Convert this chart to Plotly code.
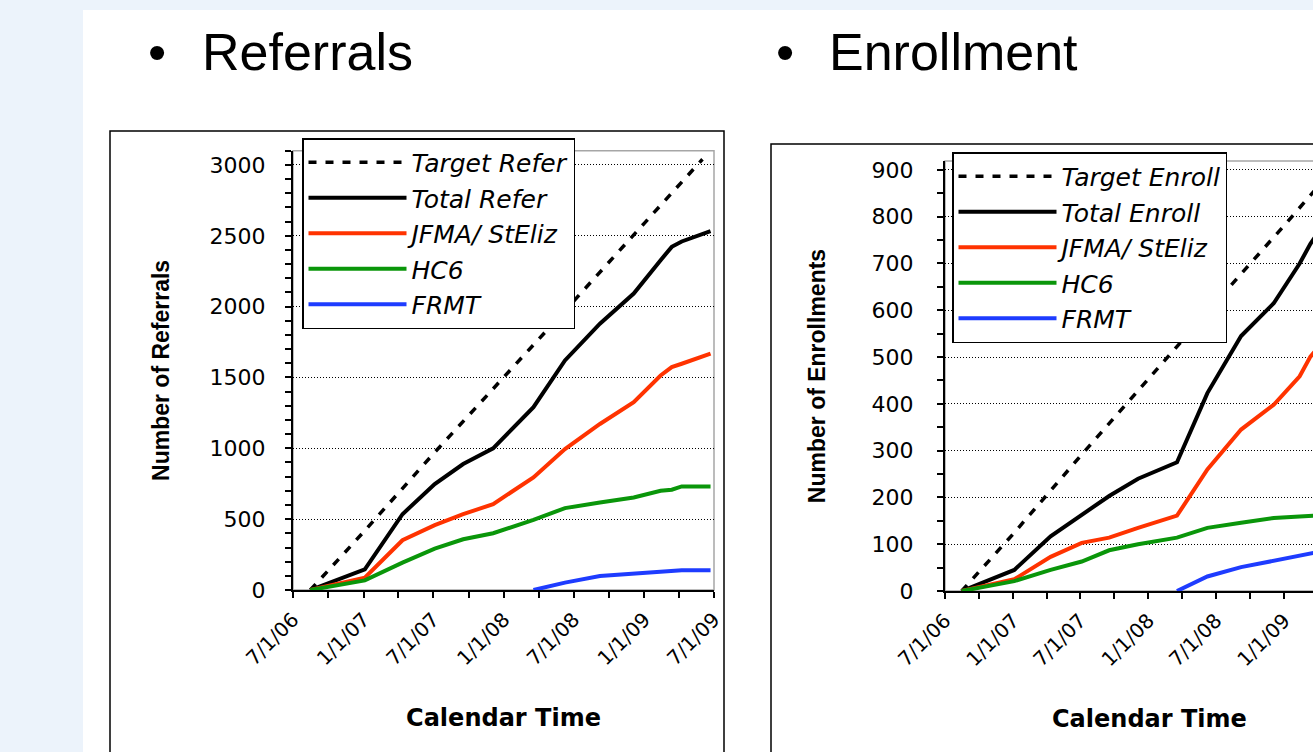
import plotly.graph_objects as go

# ---------------- data ----------------
dates = ["2006-08-15", "2007-01-04", "2007-04-12", "2007-07-05", "2007-09-17",
         "2007-12-04", "2008-03-18", "2008-06-08", "2008-09-07", "2008-12-04",
         "2009-02-12", "2009-03-13", "2009-04-08", "2009-06-22"]
target_dates = ["2006-08-15", "2007-01-01", "2007-07-01", "2008-01-01",
                "2008-07-01", "2009-01-01", "2009-06-01"]

# Referrals
target_refer = [0, 410, 960, 1500, 2040, 2590, 3040]
total_refer = [0, 146, 535, 748, 889, 1000, 1290, 1620, 1880, 2092, 2328, 2422, 2460, 2533]
jfma_refer = [0, 87, 351, 458, 535, 606, 795, 995, 1172, 1325, 1514, 1573, 1597, 1668]
hc6_refer = [0, 68, 193, 292, 358, 401, 495, 578, 618, 653, 700, 708, 731, 731]
frmt_refer = [None, None, None, None, None, None, 0, 52, 99, 118, 130, 134, 139, 139]

# Enrollment
target_enroll = [0, 122, 288, 452, 617, 781, 918]
total_enroll = [0, 45, 117, 164, 203, 240, 275, 423, 545, 615, 700, 742, 772, 835]
jfma_enroll = [0, 25, 73, 103, 114, 135, 161, 260, 345, 398, 459, 501, 525, 580]
hc6_enroll = [0, 21, 45, 63, 87, 100, 114, 135, 146, 156, 159, 161, 163, 165]
frmt_enroll = [None, None, None, None, None, None, 0, 31, 51, 64, 76, 80, 84, 90]

names_refer = ["Target Refer", "Total Refer", "JFMA/ StEliz", "HC6", "FRMT"]
names_enroll = ["Target Enroll", "Total Enroll", "JFMA/ StEliz", "HC6", "FRMT"]
colors = ["#000000", "#000000", "#FF3300", "#0A960A", "#1E3CFF"]

W, H = 1313, 752
BG = "#ECF3FB"

def px(x):
    return x / W

def py(y):
    return (H - y) / H

fig = go.Figure()

def add_series(xa, ya, leg, names, tvals, series):
    fig.add_trace(go.Scatter(x=target_dates, y=tvals, mode="lines", name=names[0],
                             line=dict(color=colors[0], width=3.5, dash="8px,9px"),
                             xaxis=xa, yaxis=ya, legend=leg))
    for nm, vals, col in zip(names[1:], series, colors[1:]):
        fig.add_trace(go.Scatter(x=dates, y=vals, mode="lines", name=nm,
                                 line=dict(color=col, width=4),
                                 connectgaps=False,
                                 xaxis=xa, yaxis=ya, legend=leg))

add_series("x", "y", "legend", names_refer, target_refer,
           [total_refer, jfma_refer, hc6_refer, frmt_refer])
add_series("x2", "y2", "legend2", names_enroll, target_enroll,
           [total_enroll, jfma_enroll, hc6_enroll, frmt_enroll])

tickfont_y = dict(family="DejaVu Sans", size=22, color="black")
tickfont_x = dict(family="DejaVu Sans", size=20, color="black")
ytitle_font = dict(family="Liberation Sans", size=23, color="black", weight="bold")
xtitle_font = dict(family="DejaVu Sans", size=24, color="black", weight="bold")

def xaxis_cfg(domain, rng, title):
    return dict(domain=domain, type="date", range=rng, showgrid=False, zeroline=False,
                showline=True, linecolor="black", linewidth=2,
                ticks="outside", ticklen=6, tickwidth=1.5, tickcolor="black",
                tick0="2006-07-01", dtick="M6", tickformat="%-m/%-d/%y", tickangle=-45,
                tickfont=tickfont_x, ticklabelstandoff=2,
                minor=dict(dtick="M3", tick0="2006-07-01", ticks="outside", ticklen=6,
                           tickwidth=1.5, tickcolor="black", showgrid=False),
                title=dict(text=title, font=xtitle_font, standoff=40),
                automargin=False)

def yaxis_cfg(domain, rng, dtick, mdtick, title, standoff_lbl, standoff_title):
    return dict(domain=domain, range=rng, showgrid=True, gridcolor="black", gridwidth=1,
                griddash="1px,2px", zeroline=False,
                showline=True, linecolor="black", linewidth=2,
                ticks="outside", ticklen=6, tickwidth=1.5, tickcolor="black",
                dtick=dtick, tick0=0, tickfont=tickfont_y, ticklabelstandoff=standoff_lbl,
                minor=dict(dtick=mdtick, ticks="outside", ticklen=6, tickwidth=1.5,
                           tickcolor="black", showgrid=False),
                title=dict(text=title, font=ytitle_font, standoff=standoff_title),
                automargin=False)

legend_common = dict(bgcolor="white", bordercolor="black", borderwidth=1.5,
                     font=dict(family="DejaVu Sans", size=25, color="black", style="italic"),
                     itemwidth=98, xanchor="left", yanchor="top", traceorder="normal",
                     tracegroupgap=0)

fig.update_layout(
    width=W, height=H,
    margin=dict(l=0, r=0, t=0, b=0),
    template="none",
    paper_bgcolor=BG,
    plot_bgcolor="white",
    showlegend=True,
    xaxis=dict(anchor="y", **xaxis_cfg([px(293), px(714)], ["2006-07-01", "2009-07-01"], "Calendar Time")),
    yaxis=dict(anchor="x", **yaxis_cfg([py(590), py(150.8)], [0, 3100], 500, 100,
                                       "Number of Referrals", 15, 34)),
    xaxis2=dict(anchor="y2", **xaxis_cfg([px(945), 1.0], ["2006-07-01", "2009-03-20"], "")),
    yaxis2=dict(anchor="x2", **yaxis_cfg([py(591), py(161)], [0, 919], 100, 50,
                                         "Number of Enrollments", 19, 40)),
    legend=dict(x=px(302), y=py(138), **legend_common),
    legend2=dict(x=px(952), y=py(152), **legend_common),
)

shapes = [
    # white slide panel
    dict(type="rect", xref="paper", yref="paper", x0=px(83), x1=1.02, y0=-0.02, y1=py(10),
         fillcolor="white", line=dict(width=0), layer="below"),
    # chart frames
    dict(type="rect", xref="paper", yref="paper", x0=px(110), x1=px(724), y0=-0.05, y1=py(131),
         fillcolor="rgba(0,0,0,0)", line=dict(color="black", width=1.5), layer="below"),
    dict(type="rect", xref="paper", yref="paper", x0=px(771), x1=1.05, y0=-0.05, y1=py(144),
         fillcolor="rgba(0,0,0,0)", line=dict(color="black", width=1.5), layer="below"),
    # grey plot-area borders
    dict(type="rect", xref="x domain", yref="y domain", x0=0, x1=1, y0=0, y1=1,
         line=dict(color="#A6A6A6", width=1.5), layer="below"),
    dict(type="rect", xref="x2 domain", yref="y2 domain", x0=0, x1=1.2, y0=0, y1=1,
         line=dict(color="#A6A6A6", width=1.5), layer="below"),
]
fig.update_layout(shapes=shapes)

title_font = dict(family="Liberation Sans", size=52, color="black")
ann = [
    dict(text="•", x=px(157), y=py(52), xanchor="center", yanchor="middle"),
    dict(text="Referrals", x=px(200), y=py(52), xanchor="left", yanchor="middle"),
    dict(text="•", x=px(785), y=py(52), xanchor="center", yanchor="middle"),
    dict(text="Enrollment", x=px(827), y=py(52), xanchor="left", yanchor="middle"),
]
annotations = [dict(xref="paper", yref="paper", showarrow=False, font=title_font, **a) for a in ann]
annotations.append(dict(xref="paper", yref="paper", showarrow=False, text="Calendar Time",
                        x=px(1149), y=py(719), xanchor="center", yanchor="middle",
                        font=xtitle_font))
fig.update_layout(annotations=annotations)

fig.write_html(
    "out.html",
    config={"displayModeBar": False},
    post_script="document.body.style.margin='0px';"
                "document.body.style.background='" + BG + "';"
                "document.documentElement.style.overflow='hidden';",
)
